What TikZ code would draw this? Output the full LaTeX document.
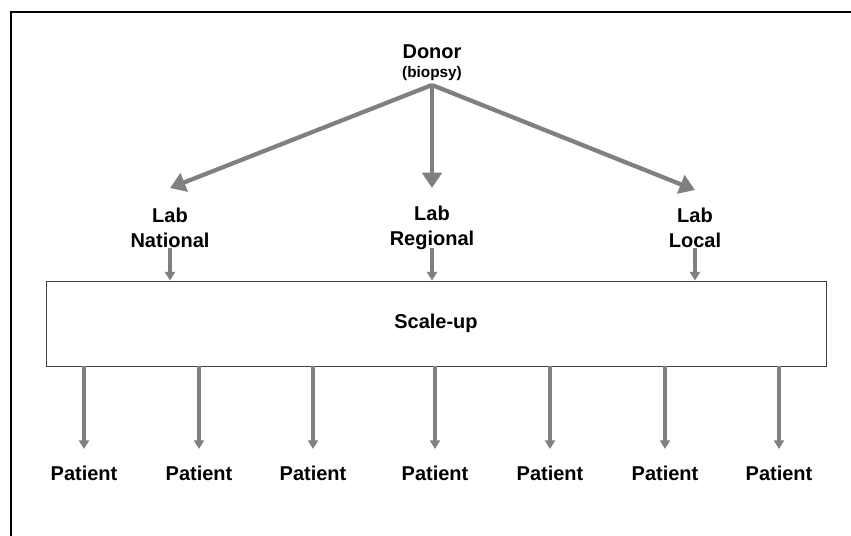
\documentclass[tikz,border=0pt]{standalone}
\usepackage{fontspec}
\setmainfont{Liberation Sans}
\usetikzlibrary{arrows.meta}
\begin{document}
\begin{tikzpicture}[x=0.75pt,y=-0.75pt,
  lbl/.style={font=\bfseries\fontsize{15}{18.5}\selectfont, inner sep=0pt, align=center},
  bigarr/.style={color=gray, line width=3.2pt,
     -{Triangle[length=11.5pt,width=14.5pt]}},
  smallarr/.style={color=gray, line width=2.5pt,
     -{Triangle[length=6.5pt,width=7.5pt]}},
  frame/.style={line width=1.9pt, draw=black}]
\useasboundingbox (0,0) rectangle (851,536);
% frame
\draw[frame] (11,540) -- (11,12) -- (855,12);
% donor
\node[lbl] (donor) at (432,52) {Donor};
\node[font=\bfseries\fontsize{11.5}{13}\selectfont, inner sep=0pt] (biopsy) at (432,74) {(biopsy)};
\coordinate (d0) at (432,85);
% labs
\coordinate (t1) at (170,188);
\coordinate (t2) at (432,188);
\coordinate (t3) at (695,190);
\draw[bigarr] (d0) -- (t1);
\draw[bigarr] (d0) -- (t2);
\draw[bigarr] (d0) -- (t3);
\node[lbl] (lab1) at (170,228) {Lab\\National};
\node[lbl] (lab2) at (432,228) {Lab\\Regional};
\node[lbl] (lab3) at (695,228) {Lab\\Local};
% scale-up box
\node[draw=black!75, line width=0.7pt, minimum width=585pt, minimum height=63.75pt,
      font=\bfseries\fontsize{15}{17}\selectfont, inner sep=0pt] (scale) at (436,323.5) {Scale-up};
\coordinate (s1) at (170,248);
\coordinate (s2) at (432,248);
\coordinate (s3) at (695,248);
\draw[smallarr] (s1) -- (s1 |- scale.north);
\draw[smallarr] (s2) -- (s2 |- scale.north);
\draw[smallarr] (s3) -- (s3 |- scale.north);
% patients
\foreach \i/\x in {1/84,2/199,3/313,4/435,5/550,6/665,7/779}{
  \node[lbl] (p\i) at (\x,473) {Patient};
  \coordinate (pa\i) at (\x,449);
  \draw[smallarr] (pa\i |- scale.south) -- (pa\i);
}
\end{tikzpicture}
\end{document}
